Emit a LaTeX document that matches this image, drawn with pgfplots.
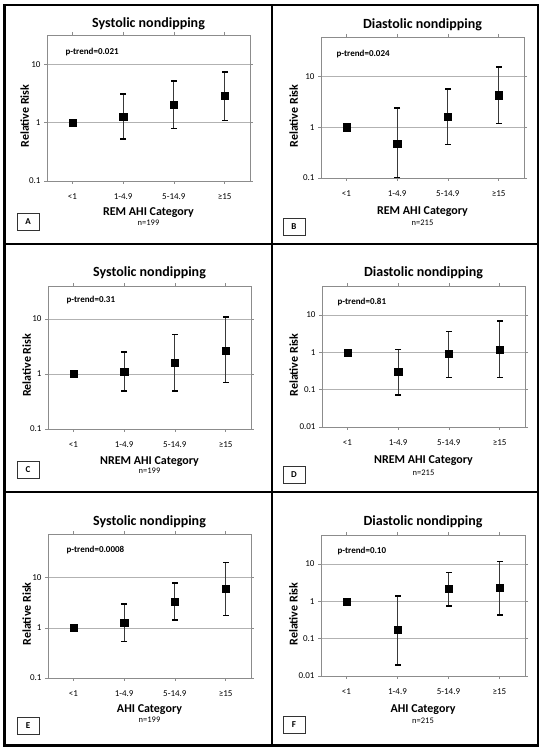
\documentclass[border=0pt]{standalone}
\usepackage{pgfplots}
\pgfplotsset{compat=1.18}
\usepackage{fontspec}
\setmainfont{Carlito}

\pgfplotsset{
  every axis/.append style={
    scale only axis, anchor=north west,
    xmin=-0.5, xmax=3.5, xtick={0,1,2,3},
    xticklabels={<1,1-4.9,5-14.9,≥15},
    ymajorgrids, yminorticks=false,
    major grid style={draw=gray!60, line width=0.8pt},
    axis line style={draw=gray!90, line width=0.8pt},
    every tick/.style={draw=gray!90, line width=0.7pt},
    tick align=outside, major tick length=3pt,
    tick label style={font=\fontsize{9}{10}\selectfont},
    xticklabel style={yshift=-6pt},
    clip=false,
  },
  every axis title/.style={font=\bfseries\fontsize{14}{16}\selectfont, at={(0.5,1)}, anchor=center},
  every axis x label/.style={font=\bfseries\fontsize{12}{14}\selectfont, at={(0.5,0)}, anchor=center},
  every axis y label/.style={font=\bfseries\fontsize{12}{14}\selectfont, anchor=center, rotate=90},
}
\tikzset{
  rrebar/.style={draw=gray!45!black, line width=1.1pt, mark=-, mark size=3pt,
    mark options={draw=black, line width=1.6pt}},
  rrpoint/.style={only marks, mark=square*, mark size=3.6pt, black, fill=black},
  rrptrend/.style={anchor=west, font=\bfseries\fontsize{9}{10}\selectfont},
  rrnlab/.style={font=\fontsize{8.5}{10}\selectfont},
  letterbox/.style={draw=gray!40!black, line width=0.6pt, minimum width=22pt,
  minimum height=17pt, inner sep=0pt, font=\bfseries\fontsize{9}{10}\selectfont}}

\begin{document}
\begin{tikzpicture}
\path[use as bounding box] (0pt,0pt) rectangle (541pt,750pt);

% ---------- A ----------
\begin{semilogyaxis}[at={(47pt,715pt)}, width=203pt, height=146pt,
  ymin=0.1, ymax=32, ytick={0.1,1,10}, yticklabels={0.1,1,10},
  title={Systolic nondipping}, title style={yshift=11pt},
  xlabel={REM AHI Category}, xlabel style={yshift=-32pt},
  ylabel={Relative Risk}, ylabel style={at={(-0.11,0.445)}}]
\addplot[rrebar] coordinates {(1,0.52) (1,3.1)};
\addplot[rrebar] coordinates {(2,0.79) (2,5.2)};
\addplot[rrebar] coordinates {(3,1.10) (3,7.5)};
\addplot[rrpoint] coordinates {(0,1) (1,1.28) (2,2.04) (3,2.87)};
\node[rrptrend, xshift=15pt, yshift=-17pt] at (rel axis cs:0,1) {p-trend=0.021};
\node[rrnlab, yshift=-42pt] at (rel axis cs:0.5,0) {n=199};
\end{semilogyaxis}

% ---------- B ----------
\begin{semilogyaxis}[at={(321pt,713pt)}, width=203pt, height=141pt,
  ymin=0.1, ymax=60, ytick={0.1,1,10}, yticklabels={0.1,1,10},
  title={Diastolic nondipping}, title style={yshift=12pt},
  xlabel={REM AHI Category}, xlabel style={yshift=-34pt},
  ylabel={Relative Risk}, ylabel style={at={(-0.135,0.44)}}]
\addplot[rrebar] coordinates {(1,0.103) (1,2.37)};
\addplot[rrebar] coordinates {(2,0.455) (2,5.7)};
\addplot[rrebar] coordinates {(3,1.18) (3,15.3)};
\addplot[rrpoint] coordinates {(0,1) (1,0.47) (2,1.6) (3,4.28)};
\node[rrptrend, xshift=12pt, yshift=-17pt] at (rel axis cs:0,1) {p-trend=0.024};
\node[rrnlab, yshift=-45pt] at (rel axis cs:0.5,0) {n=215};
\end{semilogyaxis}

% ---------- C ----------
\begin{semilogyaxis}[at={(48pt,464pt)}, width=203pt, height=143pt,
  ymin=0.1, ymax=40, ytick={0.1,1,10}, yticklabels={0.1,1,10},
  title={Systolic nondipping}, title style={yshift=13pt},
  xlabel={NREM AHI Category}, xlabel style={yshift=-33pt},
  ylabel={Relative Risk}, ylabel style={at={(-0.105,0.445)}}]
\addplot[rrebar] coordinates {(1,0.49) (1,2.53)};
\addplot[rrebar] coordinates {(2,0.49) (2,5.2)};
\addplot[rrebar] coordinates {(3,0.70) (3,10.9)};
\addplot[rrpoint] coordinates {(0,1) (1,1.1) (2,1.6) (3,2.7)};
\node[rrptrend, xshift=15pt, yshift=-14pt] at (rel axis cs:0,1) {p-trend=0.31};
\node[rrnlab, yshift=-42pt] at (rel axis cs:0.5,0) {n=199};
\end{semilogyaxis}

% ---------- D ----------
\begin{semilogyaxis}[at={(322pt,464pt)}, width=203pt, height=141pt,
  ymin=0.01, ymax=60, ytick={0.01,0.1,1,10}, yticklabels={0.01,0.1,1,10},
  title={Diastolic nondipping}, title style={yshift=13pt},
  xlabel={NREM AHI Category}, xlabel style={yshift=-34pt},
  ylabel={Relative Risk}, ylabel style={at={(-0.14,0.44)}}]
\addplot[rrebar] coordinates {(1,0.071) (1,1.18)};
\addplot[rrebar] coordinates {(2,0.21) (2,3.63)};
\addplot[rrebar] coordinates {(3,0.21) (3,7.0)};
\addplot[rrpoint] coordinates {(0,1) (1,0.30) (2,0.90) (3,1.2)};
\node[rrptrend, xshift=12pt, yshift=-16pt] at (rel axis cs:0,1) {p-trend=0.81};
\node[rrnlab, yshift=-46pt] at (rel axis cs:0.5,0) {n=215};
\end{semilogyaxis}

% ---------- E ----------
\begin{semilogyaxis}[at={(48pt,216pt)}, width=203pt, height=144pt,
  ymin=0.1, ymax=75, ytick={0.1,1,10}, yticklabels={0.1,1,10},
  title={Systolic nondipping}, title style={yshift=12pt},
  xlabel={AHI Category}, xlabel style={yshift=-32pt},
  ylabel={Relative Risk}, ylabel style={at={(-0.105,0.445)}}]
\addplot[rrebar] coordinates {(1,0.54) (1,3.0)};
\addplot[rrebar] coordinates {(2,1.44) (2,7.85)};
\addplot[rrebar] coordinates {(3,1.78) (3,20.4)};
\addplot[rrpoint] coordinates {(0,1) (1,1.27) (2,3.36) (3,5.97)};
\node[rrptrend, xshift=15pt, yshift=-16pt] at (rel axis cs:0,1) {p-trend=0.0008};
\node[rrnlab, yshift=-42pt] at (rel axis cs:0.5,0) {n=199};
\end{semilogyaxis}

% ---------- F ----------
\begin{semilogyaxis}[at={(321pt,215pt)}, width=204pt, height=141pt,
  ymin=0.01, ymax=60, ytick={0.01,0.1,1,10}, yticklabels={0.01,0.1,1,10},
  title={Diastolic nondipping}, title style={yshift=13pt},
  xlabel={AHI Category}, xlabel style={yshift=-34pt},
  ylabel={Relative Risk}, ylabel style={at={(-0.135,0.44)}}]
\addplot[rrebar] coordinates {(1,0.02) (1,1.39)};
\addplot[rrebar] coordinates {(2,0.74) (2,6.0)};
\addplot[rrebar] coordinates {(3,0.43) (3,11.6)};
\addplot[rrpoint] coordinates {(0,1) (1,0.17) (2,2.17) (3,2.31)};
\node[rrptrend, xshift=13pt, yshift=-16pt] at (rel axis cs:0,1) {p-trend=0.10};
\node[rrnlab, yshift=-45pt] at (rel axis cs:0.5,0) {n=215};
\end{semilogyaxis}

% ---------- letter boxes ----------
\node[letterbox] at (28pt,528.5pt) {A};
\node[letterbox] at (294pt,523.5pt) {B};
\node[letterbox] at (28pt,280.5pt) {C};
\node[letterbox] at (294pt,275pt) {D};
\node[letterbox] at (28pt,24.5pt) {E};
\node[letterbox] at (294pt,25.5pt) {F};

% ---------- frame ----------
\draw[line width=2.7pt] (4.5pt,4.5pt) rectangle (538pt,745pt);
\draw[line width=2.7pt] (272pt,4.5pt) -- (272pt,745pt);
\draw[line width=2.7pt] (4.5pt,506pt) -- (538pt,506pt);
\draw[line width=2.7pt] (4.5pt,258pt) -- (538pt,258pt);
\end{tikzpicture}
\end{document}
